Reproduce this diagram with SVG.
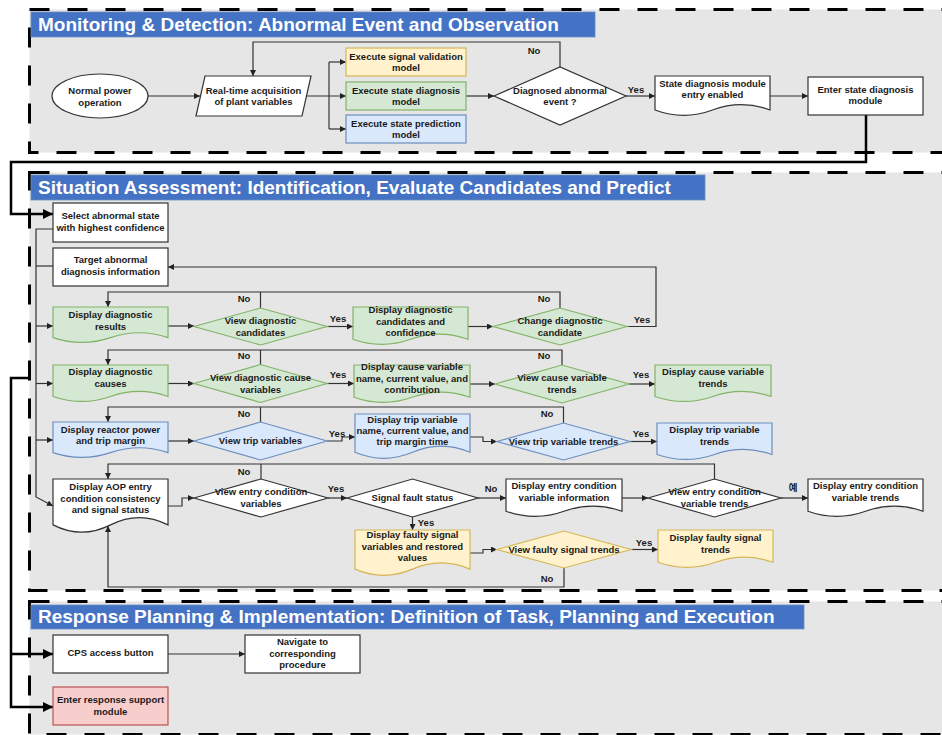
<svg xmlns="http://www.w3.org/2000/svg" width="942" height="735" viewBox="0 0 942 735">
<style>
.sec{fill:#e6e6e6;stroke:#000;stroke-width:3;stroke-dasharray:20 18}
.bar{fill:#4472c4;stroke:#6c8ebf;stroke-width:0.8}
.ttl{fill:#fff;font-family:"Liberation Sans",Arial,sans-serif;font-weight:bold;font-size:19px}
.n{font-family:"Liberation Sans",Arial,sans-serif;font-weight:bold;font-size:9.5px;fill:#1a1a1a;text-anchor:middle}
.lbl{font-family:"Liberation Sans",Arial,"Noto Sans CJK KR",sans-serif;font-weight:bold;font-size:9.5px;fill:#1a1a1a;text-anchor:middle}
.w{fill:#fff;stroke:#333;stroke-width:1.2}
.g{fill:#d5e8d4;stroke:#82b366;stroke-width:1.2}
.b{fill:#dae8fc;stroke:#6c8ebf;stroke-width:1.2}
.y{fill:#fff2cc;stroke:#d6b656;stroke-width:1.2}
.r{fill:#f8cecc;stroke:#b85450;stroke-width:1.2}
.c{fill:none;stroke:#333;stroke-width:1.2}
.ca{fill:none;stroke:#333;stroke-width:1.2;marker-end:url(#arr)}
.t{fill:none;stroke:#000;stroke-width:2.5}
.ta{fill:none;stroke:#000;stroke-width:2.5;marker-end:url(#big)}
</style>
<defs>
<marker id="arr" markerUnits="userSpaceOnUse" viewBox="0 0 10 10" markerWidth="7" markerHeight="6" refX="10" refY="5" orient="auto"><path d="M0,0 L10,5 L0,10 z" fill="#222"/></marker>
<marker id="big" markerUnits="userSpaceOnUse" viewBox="0 0 10 10" markerWidth="11" markerHeight="10" refX="10" refY="5" orient="auto"><path d="M0,0 L10,5 L0,10 z" fill="#000"/></marker>
</defs>

<g id="sec-monitoring">
<rect class="sec" x="29.5" y="9.5" width="940" height="143"/>
<rect class="bar" x="31" y="12" width="564" height="25"/>
<text class="ttl" x="38" y="31">Monitoring &amp; Detection: Abnormal Event and Observation</text>
</g>
<g id="sec-situation">
<rect class="sec" x="29.5" y="172.5" width="940" height="418"/>
<rect class="bar" x="31" y="175" width="674" height="25"/>
<text class="ttl" x="38" y="194">Situation Assessment: Identification, Evaluate Candidates and Predict</text>
</g>
<g id="sec-response">
<rect class="sec" x="29.5" y="601.5" width="940" height="133"/>
<rect class="bar" x="31" y="605" width="773" height="24"/>
<text class="ttl" x="38" y="623">Response Planning &amp; Implementation: Definition of Task, Planning and Execution</text>
</g>

<g id="connectors">
<path class="ca" d="M148,96 H200"/>
<path class="ca" d="M306.5,96 H346"/>
<path class="c" d="M329,62 V129"/>
<path class="ca" d="M329,62 H346"/>
<path class="ca" d="M329,129 H346"/>
<path class="ca" d="M466,96 H494"/>
<path class="ca" d="M560,67 V42 H253 V76"/>
<path class="ca" d="M626,96 H655"/>
<path class="ca" d="M770,96 H808"/>
<path class="ta" d="M866,115 V162 H11 V214 H53"/>
<path class="ta" d="M30,378 H11 V707 H53"/>
<path class="ta" d="M11,654 H53"/>

<path class="ca" d="M53,229 H36 V497 L53,506"/>
<path class="c" d="M53,266 H36"/>
<path class="ca" d="M36,326 H53"/>
<path class="ca" d="M36,383.5 H53"/>
<path class="ca" d="M36,440 H53"/>

<path class="ca" d="M168,326 H194"/>
<path class="ca" d="M327,326.5 H353"/>
<path class="ca" d="M468,326.5 H493"/>
<path class="ca" d="M627,326.5 H656 V267 H168"/>
<path class="ca" d="M560,308 V292 H108 V307"/>
<path class="c" d="M260.5,308 V292"/>

<path class="ca" d="M168,383.5 H194"/>
<path class="ca" d="M327,383.5 H354"/>
<path class="ca" d="M470,384 H495"/>
<path class="ca" d="M629,384 H655"/>
<path class="ca" d="M562,365 V350 H108 V365"/>
<path class="c" d="M260.5,364.5 V350"/>

<path class="ca" d="M168,441 H194"/>
<path class="ca" d="M327,441 H342 V437 H355"/>
<path class="ca" d="M470,437 H483 V441.5 H497"/>
<path class="ca" d="M630,441.5 H657"/>
<path class="ca" d="M563.5,423 V407 H108 V422"/>
<path class="c" d="M260.5,422 V407"/>

<path class="ca" d="M168,506 H182 V498 H194"/>
<path class="ca" d="M328,498 H347"/>
<path class="ca" d="M478,498 H506"/>
<path class="ca" d="M622,498 H648"/>
<path class="ca" d="M781,498 H808"/>
<path class="ca" d="M412.5,517 V530"/>
<path class="ca" d="M714.5,479 V464 H108 V479"/>
<path class="c" d="M261,479 V464"/>

<path class="ca" d="M470,553 H483 V549.5 H497"/>
<path class="ca" d="M631,549.5 H658"/>
<path class="ca" d="M564,568 V587 H108 V526"/>

<path class="ca" d="M168,654 H245"/>

<text class="lbl" x="534" y="54">No</text>
<text class="lbl" x="636" y="93">Yes</text>
<text class="lbl" x="244" y="302">No</text>
<text class="lbl" x="338" y="322">Yes</text>
<text class="lbl" x="544" y="302">No</text>
<text class="lbl" x="642" y="323">Yes</text>
<text class="lbl" x="244" y="359">No</text>
<text class="lbl" x="338" y="378">Yes</text>
<text class="lbl" x="544" y="359">No</text>
<text class="lbl" x="641" y="378">Yes</text>
<text class="lbl" x="244" y="417">No</text>
<text class="lbl" x="337" y="437">Yes</text>
<text class="lbl" x="547" y="417">No</text>
<text class="lbl" x="641" y="437">Yes</text>
<text class="lbl" x="244" y="475">No</text>
<text class="lbl" x="336" y="492">Yes</text>
<text class="lbl" x="491" y="492">No</text>
<text class="lbl" x="426" y="526">Yes</text>
<text class="lbl" x="793" y="491">예</text>
<text class="lbl" x="644" y="546">Yes</text>
<text class="lbl" x="547" y="582">No</text>
</g>

<g id="n-normal"><ellipse class="w" cx="100" cy="96" rx="48" ry="22"/><text class="n"><tspan x="100" y="94">Normal power</tspan><tspan x="100" y="105.5">operation</tspan></text></g>
<g id="n-acq"><polygon class="w" points="205,76 311,76 302,116 196,116"/><text class="n"><tspan x="253.5" y="94">Real-time acquisition</tspan><tspan x="253.5" y="105">of plant variables</tspan></text></g>
<g id="n-val"><rect class="y" x="346" y="48" width="120" height="28"/><text class="n"><tspan x="406" y="60">Execute signal validation</tspan><tspan x="406" y="71">model</tspan></text></g>
<g id="n-sdm"><rect class="g" x="346" y="82" width="120" height="28"/><text class="n"><tspan x="406" y="93.5">Execute state diagnosis</tspan><tspan x="406" y="104.5">model</tspan></text></g>
<g id="n-pred"><rect class="b" x="346" y="115" width="120" height="28"/><text class="n"><tspan x="406" y="127">Execute state prediction</tspan><tspan x="406" y="138">model</tspan></text></g>
<g id="n-diag"><polygon class="w" points="494,96 560,67 626,96 560,125"/><text class="n"><tspan x="560" y="93.5">Diagnosed abnormal</tspan><tspan x="560" y="104.5">event ?</tspan></text></g>
<g id="n-enabled"><path class="w" d="M655,76 H770 V110 Q741.25,99.2 712.5,110 Q683.75,120.8 655,110 Z"/><text class="n"><tspan x="712.5" y="87">State diagnosis module</tspan><tspan x="712.5" y="98">entry enabled</tspan></text></g>
<g id="n-enter"><rect class="w" x="808" y="77" width="115" height="38"/><text class="n"><tspan x="865.5" y="93">Enter state diagnosis</tspan><tspan x="865.5" y="104">module</tspan></text></g>

<g id="n-select"><rect class="w" x="53" y="203" width="115" height="39"/><text class="n"><tspan x="110.5" y="219">Select abnormal state</tspan><tspan x="110.5" y="231">with highest confidence</tspan></text></g>
<g id="n-target"><rect class="w" x="53" y="248" width="115" height="38"/><text class="n"><tspan x="110.5" y="263">Target abnormal</tspan><tspan x="110.5" y="275">diagnosis information</tspan></text></g>

<g id="n-res"><path class="g" d="M53,307 H168 V337.6 Q139.25,327.9 110.5,337.6 Q81.75,347.3 53,337.6 Z"/><text class="n"><tspan x="110.5" y="318">Display diagnostic</tspan><tspan x="110.5" y="329.5">results</tspan></text></g>
<g id="n-vcand"><polygon class="g" points="194,326.5 260.5,308 327,326.5 260.5,345"/><text class="n"><tspan x="260.5" y="324">View diagnostic</tspan><tspan x="260.5" y="336">candidates</tspan></text></g>
<g id="n-cand"><path class="g" d="M353,307 H468 V339.3 Q439.25,329 410.5,339.3 Q381.75,349.6 353,339.3 Z"/><text class="n"><tspan x="410.5" y="313">Display diagnostic</tspan><tspan x="410.5" y="324.5">candidates and</tspan><tspan x="410.5" y="336">confidence</tspan></text></g>
<g id="n-chg"><polygon class="g" points="493,326.5 560,308 627,326.5 560,345"/><text class="n"><tspan x="560" y="324">Change diagnostic</tspan><tspan x="560" y="336">candidate</tspan></text></g>

<g id="n-causes"><path class="g" d="M53,365 H168 V396.45 Q139.25,386.46 110.5,396.45 Q81.75,406.44 53,396.45 Z"/><text class="n"><tspan x="110.5" y="375">Display diagnostic</tspan><tspan x="110.5" y="387">causes</tspan></text></g>
<g id="n-vcause"><polygon class="g" points="194,383.5 260.5,364.5 327,383.5 260.5,402.5"/><text class="n"><tspan x="260.5" y="381">View diagnostic cause</tspan><tspan x="260.5" y="393">variables</tspan></text></g>
<g id="n-causevar"><path class="g" d="M354,365 H470 V397.3 Q441,387 412,397.3 Q383,407.6 354,397.3 Z"/><text class="n"><tspan x="412" y="370">Display cause variable</tspan><tspan x="412" y="381.5">name, current value, and</tspan><tspan x="412" y="393">contribution</tspan></text></g>
<g id="n-vctrend"><polygon class="g" points="495,384 562,365 629,384 562,403"/><text class="n"><tspan x="562" y="381">View cause variable</tspan><tspan x="562" y="393">trends</tspan></text></g>
<g id="n-ctrend"><path class="g" d="M655,365 H771 V396.45 Q742,386.46 713,396.45 Q684,406.44 655,396.45 Z"/><text class="n"><tspan x="713" y="375">Display cause variable</tspan><tspan x="713" y="387">trends</tspan></text></g>

<g id="n-reactor"><path class="b" d="M53,422 H168 V452.6 Q139.25,442.9 110.5,452.6 Q81.75,462.3 53,452.6 Z"/><text class="n"><tspan x="110.5" y="433">Display reactor power</tspan><tspan x="110.5" y="444">and trip margin</tspan></text></g>
<g id="n-vtrip"><polygon class="b" points="194,441 260.5,422 327,441 260.5,460"/><text class="n" x="260.5" y="444">View trip variables</text></g>
<g id="n-tripvar"><path class="b" d="M355,414 H470 V452.25 Q441.25,440.1 412.5,452.25 Q383.75,464.4 355,452.25 Z"/><text class="n"><tspan x="412.5" y="423">Display trip variable</tspan><tspan x="412.5" y="433.5">name, current value, and</tspan><tspan x="412.5" y="444.5">trip margin time</tspan></text></g>
<g id="n-vttrend"><polygon class="b" points="497,441.5 563.5,423 630,441.5 563.5,460"/><text class="n" x="563.5" y="444.5">View trip variable trends</text></g>
<g id="n-ttrend"><path class="b" d="M657,423 H772 V454.45 Q743.25,444.46 714.5,454.45 Q685.75,464.44 657,454.45 Z"/><text class="n"><tspan x="714.5" y="433">Display trip variable</tspan><tspan x="714.5" y="444.5">trends</tspan></text></g>

<g id="n-aop"><path class="w" d="M53,479 H168 V524.9 Q139.25,510.3 110.5,524.9 Q81.75,539.5 53,524.9 Z"/><text class="n"><tspan x="110.5" y="490">Display AOP entry</tspan><tspan x="110.5" y="501.5">condition consistency</tspan><tspan x="110.5" y="513">and signal status</tspan></text></g>
<g id="n-ventry"><polygon class="w" points="194,498 261,479 328,498 261,517"/><text class="n"><tspan x="261" y="495">View entry condition</tspan><tspan x="261" y="506.5">variables</tspan></text></g>
<g id="n-fault"><polygon class="w" points="347,498 412.5,479 478,498 412.5,517"/><text class="n" x="412.5" y="501">Signal fault status</text></g>
<g id="n-entryinfo"><path class="w" d="M506,479 H622 V511.3 Q593,501 564,511.3 Q535,521.6 506,511.3 Z"/><text class="n"><tspan x="564" y="489">Display entry condition</tspan><tspan x="564" y="500.5">variable information</tspan></text></g>
<g id="n-ventrytrend"><polygon class="w" points="648,498 714.5,479 781,498 714.5,517"/><text class="n"><tspan x="714.5" y="495">View entry condition</tspan><tspan x="714.5" y="506.5">variable trends</tspan></text></g>
<g id="n-entrytrend"><path class="w" d="M808,479 H923 V511.3 Q894.25,501 865.5,511.3 Q836.75,521.6 808,511.3 Z"/><text class="n"><tspan x="865.5" y="489">Display entry condition</tspan><tspan x="865.5" y="500.5">variable trends</tspan></text></g>

<g id="n-faulty"><path class="y" d="M355,530 H470 V569.1 Q441.25,556.7 412.5,569.1 Q383.75,581.5 355,569.1 Z"/><text class="n"><tspan x="412.5" y="538">Display faulty signal</tspan><tspan x="412.5" y="549.5">variables and restored</tspan><tspan x="412.5" y="561">values</tspan></text></g>
<g id="n-vfaulty"><polygon class="y" points="497,549.5 564,531 631,549.5 564,568"/><text class="n" x="564" y="553">View faulty signal trends</text></g>
<g id="n-ftrend"><path class="y" d="M658,530 H773 V562.3 Q744.25,552 715.5,562.3 Q686.75,572.6 658,562.3 Z"/><text class="n"><tspan x="715.5" y="541">Display faulty signal</tspan><tspan x="715.5" y="553">trends</tspan></text></g>

<g id="n-cps"><rect class="w" x="53" y="635" width="115" height="38"/><text class="n" x="110.5" y="656">CPS access button</text></g>
<g id="n-nav"><rect class="w" x="245" y="635" width="115" height="38"/><text class="n"><tspan x="302.5" y="645">Navigate to</tspan><tspan x="302.5" y="656.5">corresponding</tspan><tspan x="302.5" y="668">procedure</tspan></text></g>
<g id="n-resp"><rect class="r" x="53" y="687" width="115" height="38"/><text class="n"><tspan x="110.5" y="703">Enter response support</tspan><tspan x="110.5" y="715">module</tspan></text></g>
</svg>
